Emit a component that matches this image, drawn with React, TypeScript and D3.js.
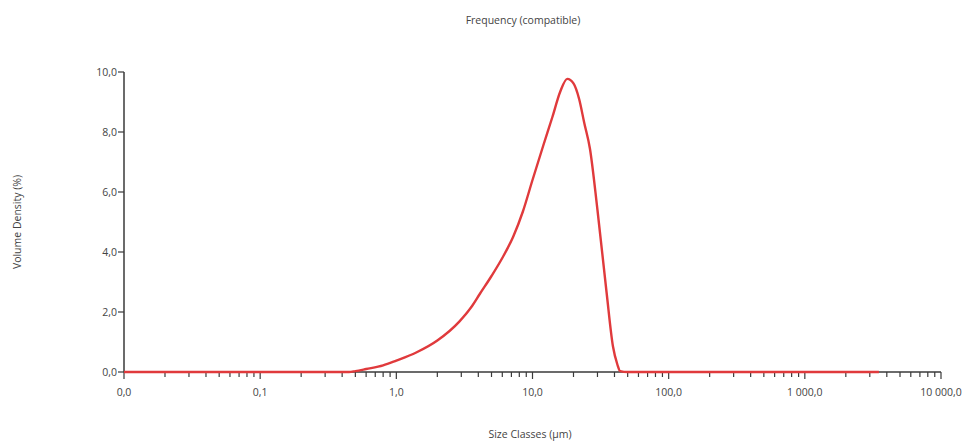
import React from "react";
import * as d3 from "d3";

const sizes = [0.01, 0.1, 0.3, 0.4, 0.45, 0.5, 0.6, 0.8, 1.0, 1.4, 2.0, 2.9, 3.6, 4.1, 5.0, 6.0, 7.2, 8.5, 10, 12, 14, 16, 18, 20, 22, 24, 26.4, 30, 35, 39, 42, 44, 50, 100, 1000, 3500];
const volumeDensity = [0, 0, 0, 0, 0, 0.03, 0.1, 0.22, 0.38, 0.65, 1.05, 1.68, 2.2, 2.6, 3.2, 3.8, 4.5, 5.35, 6.4, 7.55, 8.5, 9.35, 9.77, 9.62, 9.1, 8.3, 7.45, 5.4, 2.65, 0.85, 0.25, 0.03, 0, 0, 0, 0];
const xMajorTicks = [0.01, 0.1, 1, 10, 100, 1000, 10000];
const xTickLabels = ["0,0", "0,1", "1,0", "10,0", "100,0", "1 000,0", "10 000,0"];
const yTicks = [0, 2, 4, 6, 8, 10];
const yTickLabels = ["0,0", "2,0", "4,0", "6,0", "8,0", "10,0"];

const W = 971, H = 441;
const left = 124, right = 941, top = 72, bottom = 372;
const font = "'Open Sans', 'Noto Sans', sans-serif";
const axisColor = "#3a3a3a";
const textColor = "#444";

export default function App() {
  const x = d3.scaleLog().domain([0.01, 10000]).range([left, right]);
  const y = d3.scaleLinear().domain([0, 10]).range([bottom, top]);
  const line = d3
    .line<number>()
    .x((_, i) => x(sizes[i]))
    .y((d) => y(d))
    .curve(d3.curveMonotoneX);
  const minor: number[] = [];
  for (let e = -2; e < 4; e++) {
    for (let k = 2; k <= 9; k++) minor.push(k * Math.pow(10, e));
  }
  return (
    <svg width={W} height={H} style={{ position: "absolute", left: 0, top: 0, background: "#fff" }}>
      <text x={523} y={24} textAnchor="middle" fontFamily={font} fontSize={10.5} fill={textColor}>
        Frequency (compatible)
      </text>
      <text
        transform={`translate(21,${(top + bottom) / 2}) rotate(-90)`}
        textAnchor="middle"
        fontFamily={font}
        fontSize={10.5}
        fill={textColor}
      >
        Volume Density (%)
      </text>
      <text x={530} y={438} textAnchor="middle" fontFamily={font} fontSize={10.5} fill={textColor}>
        Size Classes (µm)
      </text>
      {/* y axis */}
      <line x1={left} x2={left} y1={top} y2={bottom} stroke={axisColor} strokeWidth={1.5} />
      {yTicks.map((t, i) => (
        <g key={t}>
          <line x1={left - 6} x2={left} y1={y(t)} y2={y(t)} stroke={axisColor} strokeWidth={1.2} />
          <text x={left - 7} y={y(t) + 4} textAnchor="end" fontFamily={font} fontSize={10.5} fill={textColor}>
            {yTickLabels[i]}
          </text>
        </g>
      ))}
      {/* x axis */}
      <line x1={left} x2={right} y1={bottom} y2={bottom} stroke={axisColor} strokeWidth={1.5} />
      {minor.map((t) => (
        <line key={t} x1={x(t)} x2={x(t)} y1={bottom} y2={bottom + 5} stroke={axisColor} strokeWidth={1.2} />
      ))}
      {xMajorTicks.map((t, i) => (
        <g key={t}>
          <line x1={x(t)} x2={x(t)} y1={bottom} y2={bottom + 7} stroke={axisColor} strokeWidth={1.2} />
          <text x={x(t)} y={bottom + 24} textAnchor="middle" fontFamily={font} fontSize={10.5} fill={textColor}>
            {xTickLabels[i]}
          </text>
        </g>
      ))}
      <path d={line(volumeDensity) || ""} fill="none" stroke="#e03a3c" strokeWidth={2.4} strokeLinejoin="round" />
    </svg>
  );
}
